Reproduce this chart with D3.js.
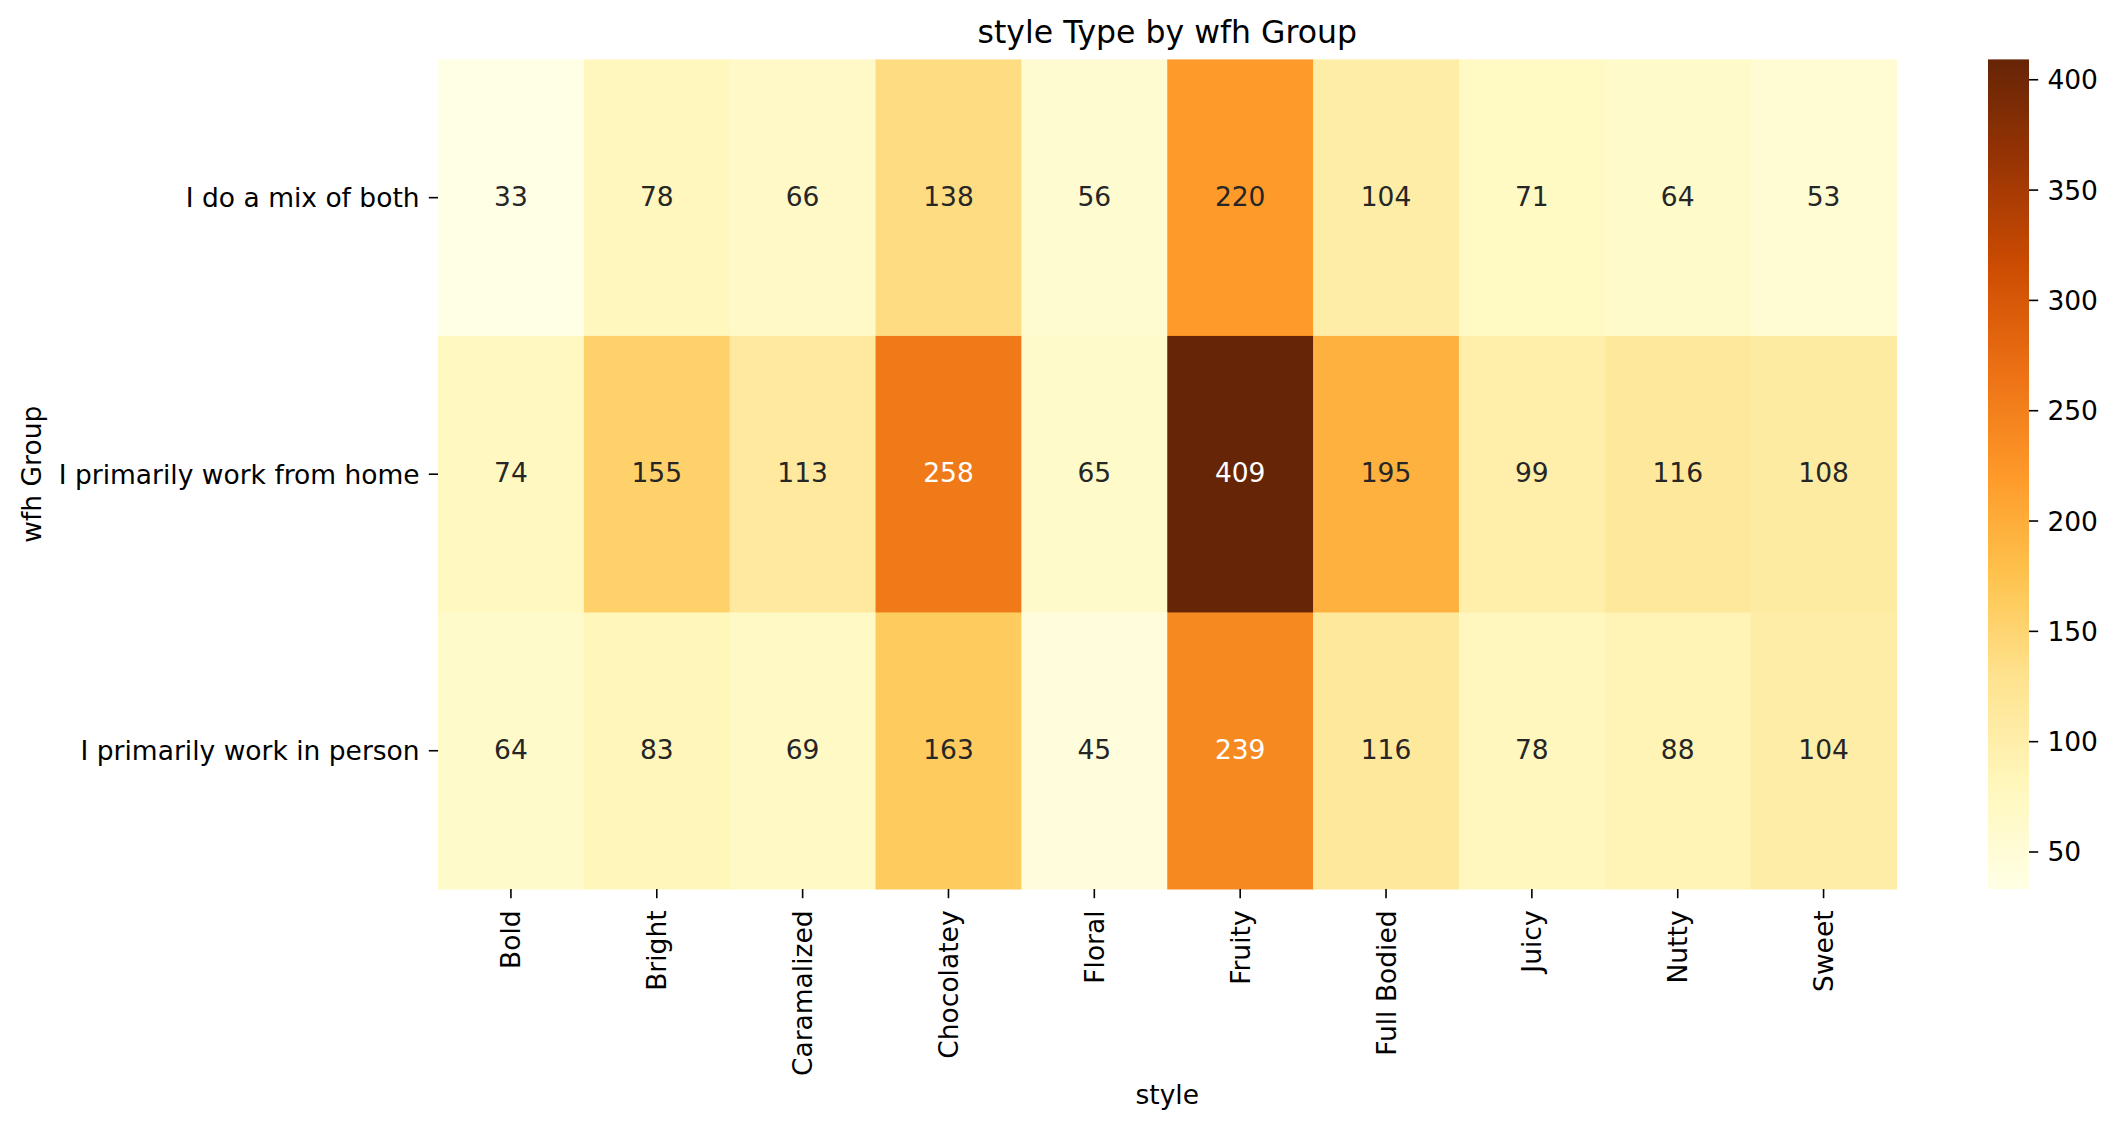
<!DOCTYPE html>
<html>
<head>
<meta charset="utf-8">
<script src="https://cdn.jsdelivr.net/npm/d3@7"></script>
<style>
  html, body { margin: 0; padding: 0; background: #fff; }
  svg { display: block; font-family: "DejaVu Sans", sans-serif; }
</style>
</head>
<body>
<svg id="chart" width="2118" height="1130"></svg>
<script>
// ---- data ----
const styles = ["Bold", "Bright", "Caramalized", "Chocolatey", "Floral", "Fruity", "Full Bodied", "Juicy", "Nutty", "Sweet"];
const groups = ["I do a mix of both", "I primarily work from home", "I primarily work in person"];
const mixValues    = [33, 78, 66, 138, 56, 220, 104, 71, 64, 53];
const homeValues   = [74, 155, 113, 258, 65, 409, 195, 99, 116, 108];
const personValues = [64, 83, 69, 163, 45, 239, 116, 78, 88, 104];
const colorbarTicks = [50, 100, 150, 200, 250, 300, 350, 400];
const titleText = "style Type by wfh Group";
const xLabelText = "style";
const yLabelText = "wfh Group";

(function () {
const seriesByGroup = [mixValues, homeValues, personValues];
const cells = [];
groups.forEach((g, gi) => styles.forEach((s, si) => cells.push({ group: g, style: s, value: seriesByGroup[gi][si] })));

// ---- layout ----
const svg = d3.select("#chart");
const pLeft = 438, pRight = 1896.5, pTop = 59.4, pBottom = 889;
const fs = 26.5, tickLen = 9.2, pad = 9.2;

const x = d3.scaleBand().domain(styles).range([pLeft, pRight]).padding(0);
const y = d3.scaleBand().domain(groups).range([pTop, pBottom]).padding(0);

const allVals = cells.map(d => d.value);
const vmin = d3.min(allVals), vmax = d3.max(allVals);
const ylorbr = ["#ffffe5","#fff7bc","#fee391","#fec44f","#fe9929","#ec7014","#cc4c02","#993404","#662506"];
const color = d3.scaleLinear()
  .domain(ylorbr.map((_, i) => vmin + (vmax - vmin) * i / (ylorbr.length - 1)))
  .range(ylorbr)
  .interpolate(d3.interpolateRgb);

function luminance(c) {
  const rgb = d3.rgb(c);
  const f = v => { v /= 255; return v <= 0.03928 ? v / 12.92 : Math.pow((v + 0.055) / 1.055, 2.4); };
  return 0.2126 * f(rgb.r) + 0.7152 * f(rgb.g) + 0.0722 * f(rgb.b);
}

// cells
svg.append("g").selectAll("rect").data(cells).join("rect")
  .attr("x", d => x(d.style))
  .attr("y", d => y(d.group))
  .attr("width", x.bandwidth() + 0.5)
  .attr("height", y.bandwidth() + 0.5)
  .attr("fill", d => color(d.value));

// annotations
svg.append("g").selectAll("text").data(cells).join("text")
  .attr("x", d => x(d.style) + x.bandwidth() / 2)
  .attr("y", d => y(d.group) + y.bandwidth() / 2 - 1.5)
  .attr("text-anchor", "middle")
  .attr("dominant-baseline", "central")
  .attr("font-size", fs)
  .attr("fill", d => luminance(color(d.value)) > 0.408 ? "#262626" : "#ffffff")
  .text(d => d.value);

// x axis
const xAxis = d3.axisBottom(x).tickSize(tickLen).tickPadding(pad);
const gx = svg.append("g").attr("transform", `translate(0,${pBottom})`).call(xAxis);
gx.select(".domain").remove();
gx.selectAll(".tick line").attr("stroke", "#000").attr("stroke-width", 1.6);
gx.selectAll(".tick text")
  .attr("font-size", fs).attr("fill", "#000").attr("font-family", "DejaVu Sans")
  .attr("text-anchor", "end")
  .attr("dy", null)
  .attr("dominant-baseline", "central")
  .attr("y", 0)
  .attr("transform", `translate(0,${tickLen + pad + 3}) rotate(-90)`);

// y axis
const yAxis = d3.axisLeft(y).tickSize(tickLen).tickPadding(pad);
const gy = svg.append("g").attr("transform", `translate(${pLeft},0)`).call(yAxis);
gy.select(".domain").remove();
gy.selectAll(".tick line").attr("stroke", "#000").attr("stroke-width", 1.6);
gy.selectAll(".tick text")
  .attr("font-size", fs).attr("fill", "#000").attr("font-family", "DejaVu Sans")
  .attr("dy", null).attr("dominant-baseline", "central");

// axis labels and title
svg.append("text").attr("x", (pLeft + pRight) / 2).attr("y", 1104)
  .attr("text-anchor", "middle").attr("font-size", fs).attr("fill", "#000").text(xLabelText);
svg.append("text").attr("transform", `translate(31,${(pTop + pBottom) / 2}) rotate(-90)`)
  .attr("text-anchor", "middle").attr("dominant-baseline", "central")
  .attr("font-size", fs).attr("fill", "#000").text(yLabelText);
svg.append("text").attr("x", (pLeft + pRight) / 2).attr("y", 43)
  .attr("text-anchor", "middle").attr("font-size", 31.5).attr("fill", "#000").text(titleText);

// colorbar
const cbLeft = 1988, cbRight = 2029;
const cbScale = d3.scaleLinear().domain([vmin, vmax]).range([pBottom, pTop]);
const defs = svg.append("defs");
const grad = defs.append("linearGradient").attr("id", "cbgrad")
  .attr("x1", 0).attr("y1", 1).attr("x2", 0).attr("y2", 0);
d3.range(0, 1.0001, 0.02).forEach(t => {
  grad.append("stop").attr("offset", t).attr("stop-color", color(vmin + (vmax - vmin) * t));
});
svg.append("rect").attr("x", cbLeft).attr("y", pTop)
  .attr("width", cbRight - cbLeft).attr("height", pBottom - pTop)
  .attr("fill", "url(#cbgrad)");
const cbAxis = d3.axisRight(cbScale).tickValues(colorbarTicks).tickSize(tickLen).tickPadding(pad);
const gcb = svg.append("g").attr("transform", `translate(${cbRight},0)`).call(cbAxis);
gcb.select(".domain").remove();
gcb.selectAll(".tick line").attr("stroke", "#000").attr("stroke-width", 1.6);
gcb.selectAll(".tick text")
  .attr("font-size", fs).attr("fill", "#000").attr("font-family", "DejaVu Sans")
  .attr("dy", null).attr("dominant-baseline", "central");
})();
</script>
</body>
</html>
